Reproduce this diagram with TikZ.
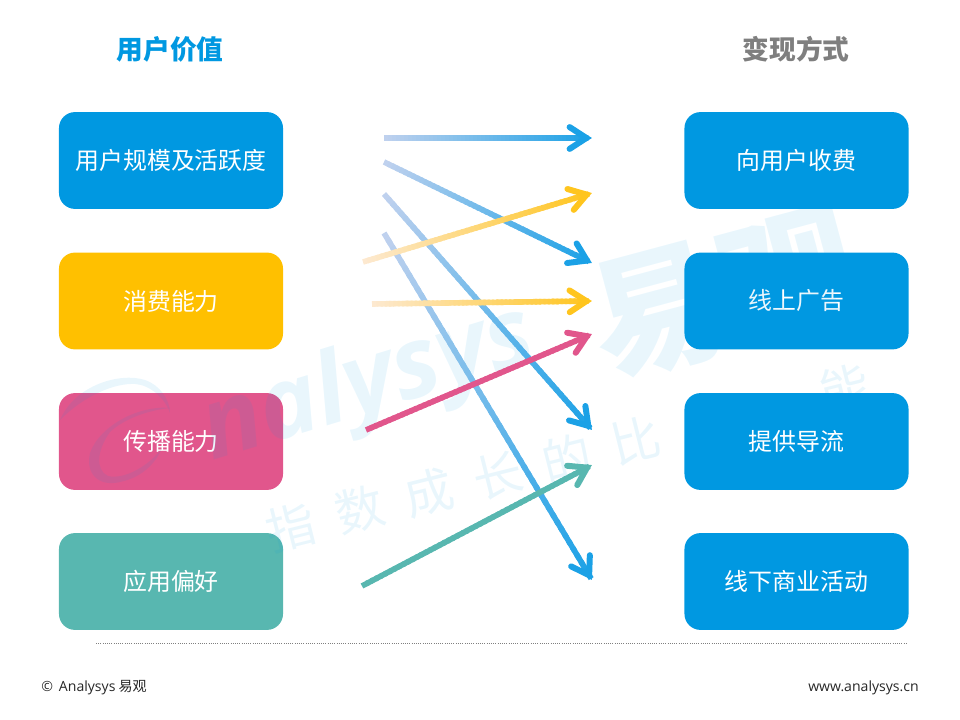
\documentclass[tikz,border=0pt]{standalone}
\usepackage{fontspec}
\setmainfont{Noto Sans CJK SC}
\newfontfamily\latinfont{Open Sans}
\usetikzlibrary{calc}

\definecolor{boxblue}{HTML}{0098E1}
\definecolor{boxyellow}{HTML}{FFC000}
\definecolor{boxpink}{HTML}{E1568C}
\definecolor{boxteal}{HTML}{58B7B0}
\definecolor{paleblue}{HTML}{BFD1EE}
\definecolor{tipblue}{HTML}{1BA1E6}
\definecolor{paleyellow}{HTML}{FDE9D0}
\definecolor{tipyellow}{HTML}{FFC51E}
\definecolor{titlegray}{HTML}{7F7F7F}

\tikzset{
  valuebox/.style={rounded corners=0.4cm, minimum width=5.6cm, minimum height=2.42cm, inner sep=0pt, text=white, font=\fontsize{17}{17}\selectfont},
  title/.style={font=\fontsize{19}{19}\selectfont\bfseries},
  foot/.style={font=\fontsize{10}{10}\selectfont, text=black!85, inner sep=0pt},
  watermark/.style={text=boxblue, text opacity=0.085},
}

% shaft in short pieces from pale to full colour, then the open head
\newcommand{\gradarrow}[4]{
  \coordinate (h) at ($(#2)!0.14cm!(#1)$);
  \foreach \p in {0,2,...,98} {
    \pgfmathtruncatemacro{\q}{\p+3}
    \draw[line width=0.14cm, color=#4!\p!#3] ($(#1)!\p/100!(h)$) -- ($(#1)!\q/100!(h)$);
  }
  \draw[line width=0.15cm, color=#4, line cap=round, line join=miter] ($(h)!0.5cm!33:(#1)$) -- (h) -- ($(h)!0.5cm!-33:(#1)$);
}

\begin{document}
\begin{tikzpicture}[x=0.025cm,y=-0.025cm]
\useasboundingbox (0,0) rectangle (960,720);

% titles
\node[title, text=boxblue] (valuetitle) at (170,49) {用户价值};
\node[title, text=titlegray] (cashtitle) at (796,49) {变现方式};

% left column
\node[valuebox, fill=boxblue] (scale) at (171,160.5) {用户规模及活跃度};
\node[valuebox, fill=boxyellow] (spend) at (171,301) {消费能力};
\node[valuebox, fill=boxpink] (spread) at (171,441.5) {传播能力};
\node[valuebox, fill=boxteal] (taste) at (171,581.5) {应用偏好};

% right column
\node[valuebox, fill=boxblue] (fee) at (796.5,160.5) {向用户收费};
\node[valuebox, fill=boxblue] (ads) at (796.5,301) {线上广告};
\node[valuebox, fill=boxblue] (traffic) at (796.5,441.5) {提供导流};
\node[valuebox, fill=boxblue] (offline) at (796.5,581.5) {线下商业活动};

% watermark
\fill[boxblue, opacity=0.085] (60,420) .. controls (75,385) and (120,372) .. (145,380) .. controls (160,385) and (170,400) .. (170,413) .. controls (165,398) and (150,385) .. (135,384) .. controls (115,383) and (85,395) .. (60,420);
\fill[boxblue, opacity=0.085] (170,408) .. controls (140,405) and (100,425) .. (90,453) .. controls (85,475) and (100,487) .. (120,482) .. controls (140,478) and (155,465) .. (162,448) .. controls (150,465) and (125,480) .. (108,476) .. controls (95,470) and (97,450) .. (110,432) .. controls (125,418) and (150,410) .. (170,408);
\node[watermark, rotate=17, font=\fontsize{70}{70}\selectfont\latinfont\bfseries\itshape] (brand) at (369,386) {nalysys};
\node[watermark, rotate=15, font=\fontsize{96}{96}\selectfont\bfseries] (yiguan) at (723,294) {易观};
\node[watermark, rotate=14, font=\fontsize{35}{35}\selectfont] (slogan) at (568,458) {指\hspace{0.55cm}数\hspace{0.55cm}成\hspace{0.55cm}长\hspace{0.55cm}的\hspace{0.55cm}比\hspace{4.15cm}能};

% arrow ends
\coordinate (b1) at (384,138); \coordinate (t1) at (592,138);
\coordinate (b2) at (384,162); \coordinate (t2) at (592,263);
\coordinate (b3) at (384,194); \coordinate (t3) at (592,430);
\coordinate (b4) at (384,233); \coordinate (t4) at (592,580);
\coordinate (y1) at (363,262); \coordinate (u1) at (592,193);
\coordinate (y2) at (372,304); \coordinate (u2) at (592,301);
\coordinate (p1) at (366,430); \coordinate (v1) at (592,334);
\coordinate (g1) at (362,586); \coordinate (w1) at (592,465);

\gradarrow{b1}{t1}{paleblue}{tipblue}
\gradarrow{b2}{t2}{paleblue}{tipblue}
\gradarrow{b3}{t3}{paleblue}{tipblue}
\gradarrow{b4}{t4}{paleblue}{tipblue}
\gradarrow{y1}{u1}{paleyellow}{tipyellow}
\gradarrow{y2}{u2}{paleyellow}{tipyellow}
\gradarrow{p1}{v1}{boxpink}{boxpink}
\gradarrow{g1}{w1}{boxteal}{boxteal}

% bottom rule and footer
\coordinate (ruleleft) at (96,643.5); \coordinate (ruleright) at (907,643.5);
\draw[line width=0.02cm, black!50, densely dotted] (ruleleft) -- (ruleright);
\node[foot, anchor=west] (copyright) at (41,688) {{\latinfont ©\, Analysys} 易观};
\node[foot, anchor=east] (website) at (919,688) {\latinfont www.analysys.cn};
\end{tikzpicture}
\end{document}
